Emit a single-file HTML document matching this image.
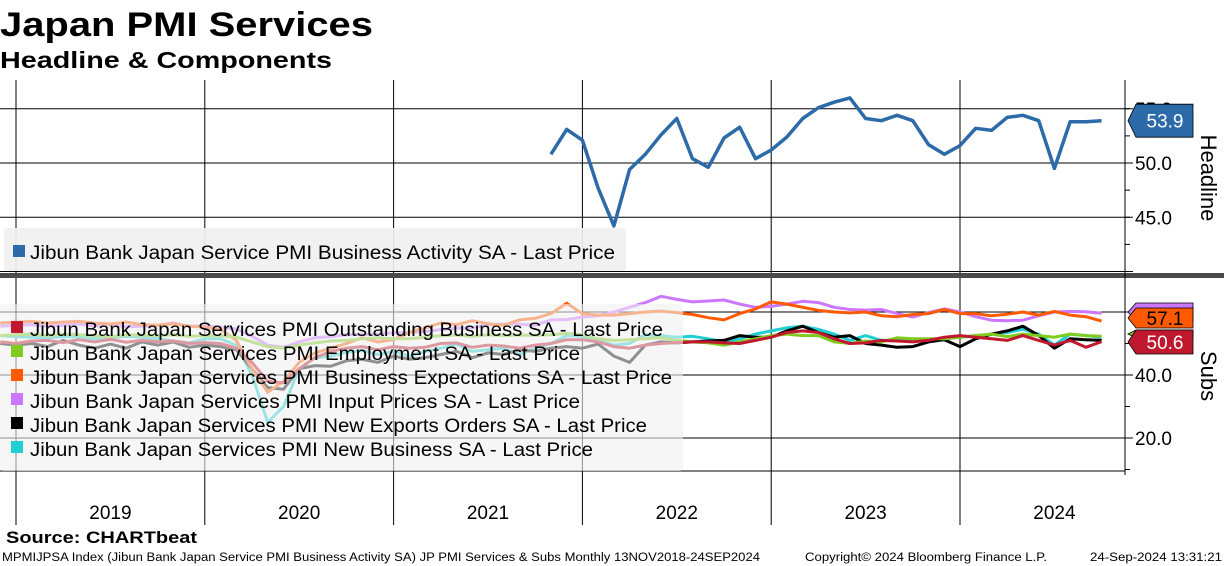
<!DOCTYPE html>
<html><head><meta charset="utf-8"><style>
html,body{margin:0;padding:0;background:#fff;width:1224px;height:566px;overflow:hidden}
svg text{font-family:"Liberation Sans",sans-serif}
</style></head><body>
<svg id="chart" width="1224" height="566" viewBox="0 0 1224 566" xmlns="http://www.w3.org/2000/svg">
<text x="0" y="36" font-size="34" font-weight="bold" textLength="373" lengthAdjust="spacingAndGlyphs">Japan PMI Services</text>
<text x="0" y="68" font-size="23" font-weight="bold" textLength="332" lengthAdjust="spacingAndGlyphs">Headline &amp; Components</text>
<g id="grid"></g>
<g id="series"></g>
<g id="legends"></g>
<g id="axes"></g>
<text x="6" y="543" font-size="17" font-weight="bold" textLength="191" lengthAdjust="spacingAndGlyphs">Source: CHARTbeat</text>
<text x="2" y="561" font-size="11.5" textLength="758" lengthAdjust="spacingAndGlyphs">MPMIJPSA Index (Jibun Bank Japan Service PMI Business Activity SA) JP PMI Services &amp; Subs  Monthly 13NOV2018-24SEP2024</text>
<text x="805" y="561" font-size="11.5" textLength="242" lengthAdjust="spacingAndGlyphs">Copyright© 2024 Bloomberg Finance L.P.</text>
<text x="1090" y="561" font-size="11.5" textLength="132" lengthAdjust="spacingAndGlyphs">24-Sep-2024 13:31:21</text>
</svg>
<script>
const years = ['2019','2020','2021','2022','2023','2024'];
const headlineTicks = [45, 50, 55];
const subsTicks = [20, 40, 60];
// headline: Oct 2021 - Sep 2024
const headline = [50.8,53.1,52.1,47.7,44.2,49.4,50.8,52.6,54.1,50.4,49.6,52.3,53.3,50.4,51.2,52.4,54.1,55.1,55.6,56.0,54.1,53.9,54.4,53.9,51.7,50.8,51.6,53.2,53.0,54.2,54.4,53.9,49.5,53.8,53.8,53.9];
// subs: Nov 2018 - Sep 2024
const outstanding = [50.5,50,
 50.8,51,50.3,51.2,50.5,51.3,50.4,51,50.6,50.8,50,50.3,
 50,48.5,44,38,37.5,42,45.5,47.5,48.5,49,48,49,
 48.5,48.8,50,50.2,48.8,49.5,49.2,48.5,49.5,50,51.2,51.2,
 50.5,49,48.5,49.5,50,50.3,50.5,50.5,50.2,50,51,52,
 53.5,54,53.5,51.5,50,50.2,51,50.8,50.5,51,52,52.5,
 52,51.5,51,52.5,51,49.5,51,48.8,50.6];
const employment = [52.5,52.8,
 53,52.5,53,52.8,52.5,52.2,52.8,52.6,52.5,52.8,52.3,52.5,
 52.5,52,50.5,49,48.5,49.5,50.2,50.8,51,51.5,51.8,51.5,
 51.5,52,52.5,52.7,52.3,52.8,52.5,52.7,52.6,52.8,53.2,52.8,
 51.5,51,51.2,51.5,51.8,51,50.5,50.2,49.5,50.5,51.5,52.5,
 53,52.5,52.5,50.5,50,50.8,50.5,51.8,51.5,51.5,51.5,52,
 52.5,53,52.2,53,52.5,52,53,52.5,52.3];
const expectations = [56.5,56.8,
 57,56.5,56.8,57,56.5,56.2,56.8,56,55.8,56.3,55.5,55.2,
 54.5,51,42,34.5,38,44,47,48.5,50,51.8,50.5,51.2,
 53.5,55,56.5,56,57.2,56.3,55.8,57.5,58,59.5,62.8,59.5,
 59,59,59.5,60,60.3,59.8,59.2,58.2,57.5,59.5,61,63.2,
 62.5,61.5,60.5,60,59.7,60,58.8,58.5,59.2,59.5,60.8,59.5,
 59.5,58.8,59.3,60,59,60.2,59,58.5,57.1];
const inputPrices = [55.5,55.8,
 56,55.5,55.8,56.2,55.6,55.9,55.3,55.5,55.8,56.5,55.4,55.6,
 55.2,54.6,52.3,49.5,48.8,50.5,51.8,52.2,52.8,52.9,53,53.4,
 53.5,53.8,54.4,54.9,55,55.9,56.2,56.1,55.8,57.5,57.6,58.4,
 58.8,60,61.5,63,65,64,63.2,63.5,63.8,62.5,61.5,61.8,
 62.5,63.4,63,61.5,60.8,60.6,60.8,59.5,58.4,59.8,61,60,
 58.5,57.4,57.2,57.4,58.8,60,60.2,60.1,59.6];
const newExports = [50,49.5,
 50,49,51,49.5,48.5,49.8,48.5,50.5,49.5,50.5,48.8,49.5,
 49,48,42,36,35.5,42,43,42.8,44.5,45,44,46,
 45,45.5,46.5,47.5,45.5,47,46.5,48,47.5,48.5,49,48.5,
 49.8,46,44,49.5,50.5,50.2,50.5,50.8,51,52.5,52,52,
 54,55.5,53.5,52,52.5,50,49.5,48.8,49,50.5,51.2,49,
 51.5,53,54,55.5,52.5,48.5,51.5,51.2,51];
const newBusiness = [52.5,52.2,
 52,51.8,52.2,52,51.5,51.8,52.3,52,51.6,50.8,50.2,51.5,
 51.5,49.5,40,25,30,42,45.5,46,47.2,47.8,46.5,47.5,
 46,47.5,48.5,49.8,47.5,48,48.5,46.5,48.5,50,52.5,52.3,
 51,49.5,50,52.8,52.5,52,52.3,51.5,50.5,51.5,53,54,
 55,55.5,54.5,53,51,52.5,51,51,50.8,51,51.5,52,
 52.5,53,53.5,54.5,53,49.5,53,52.5,52];

const NS='http://www.w3.org/2000/svg';
const X0=16, YEARW=188.8, MW=YEARW/12, RIGHT=1125;
function xMonth(m){return X0+(m+1)*MW;}
function yHead(v){return 163-(v-50)*10.85;}
function ySubs(v){return 375-(v-40)*3.15;}
function mk(tag,attrs,parent){const e=document.createElementNS(NS,tag);for(const k in attrs)e.setAttribute(k,attrs[k]);parent.appendChild(e);return e;}
const grid=document.getElementById('grid'), ser=document.getElementById('series'), leg=document.getElementById('legends'), ax=document.getElementById('axes');

years.forEach((y,i)=>{
  const x=X0+i*YEARW;
  const l=mk('line',{x1:x,x2:x,y1:80,y2:525,stroke:'#000','stroke-width':1},grid);
  
  
  const t=mk('text',{x:X0+(i+0.5)*YEARW,y:519,'font-size':19,'text-anchor':'middle'},ax);
  t.textContent=y;
  
  
});
headlineTicks.concat([40]).forEach(v=>{
  const y=yHead(v);
  const l=mk('line',{x1:0,x2:RIGHT+8,y1:y,y2:y,stroke:'#000','stroke-width':1},grid);
  
  
});
subsTicks.forEach(v=>{
  const y=ySubs(v);
  const l=mk('line',{x1:0,x2:RIGHT+8,y1:y,y2:y,stroke:'#000','stroke-width':1},grid);
  
  
});
const bl=mk('line',{x1:0,x2:RIGHT,y1:471,y2:471,stroke:'#000','stroke-width':1},grid);



function poly(vals,startM,yf,color,w,name){
  const pts=vals.map((v,i)=>xMonth(startM+i).toFixed(1)+','+yf(v).toFixed(1)).join(' ');
  const p=mk('polyline',{points:pts,fill:'none',stroke:color,'stroke-width':w,'stroke-linejoin':'round'},ser);
  
  
}
poly(headline,33,yHead,'#2d6aa8',3.5,'headline-line');
const subs=[[newBusiness,'#1fcfd2','new-business-line'],[newExports,'#000','new-exports-line'],[inputPrices,'#cc77ff','input-prices-line'],[expectations,'#ff5a00','business-expectations-line'],[employment,'#7fcc1e','employment-line'],[outstanding,'#c0182f','outstanding-business-line']];
subs.forEach(s=>poly(s[0],-2,ySubs,s[1],3,s[2]));

const sep=mk('rect',{x:0,y:273,width:1224,height:5,fill:'#4a4a4a'},ax);



const lb1=mk('rect',{x:4,y:228,width:622,height:43,fill:'#f0f0f0','fill-opacity':0.92,rx:3},leg);


const hr=mk('rect',{x:13,y:245,width:12,height:12,fill:'#2d6aa8'},leg);


const ht=mk('text',{x:30,y:259,'font-size':19,textLength:585,lengthAdjust:'spacingAndGlyphs'},leg);
ht.textContent='Jibun Bank Japan Service PMI Business Activity SA - Last Price';



const lb2=mk('rect',{x:0,y:304,width:683,height:167,fill:'#f0f0f0','fill-opacity':0.6,rx:3},leg);


const legItems=[['#c0182f','Jibun Bank Japan Services PMI Outstanding Business SA - Last Price',633],['#7fcc1e','Jibun Bank Japan Services PMI Employment SA - Last Price',550],['#ff5a00','Jibun Bank Japan Services PMI Business Expectations SA - Last Price',642],['#cc77ff','Jibun Bank Japan Services PMI Input Prices SA - Last Price',550],['#000','Jibun Bank Japan Services PMI New Exports Orders SA - Last Price',617],['#1fcfd2','Jibun Bank Japan Services PMI New Business SA - Last Price',563]];
legItems.forEach((it,i)=>{
  const y=329+i*24;
  const r=mk('rect',{x:11,y:y-8,width:12,height:12,fill:it[0]},leg);
  
  
  const t=mk('text',{x:30,y:y+7,'font-size':19,textLength:it[2],lengthAdjust:'spacingAndGlyphs'},leg);
  t.textContent=it[1];
  
  
});

const ra=mk('line',{x1:RIGHT,x2:RIGHT,y1:80,y2:475,stroke:'#000','stroke-width':1},ax);


[55,52.5,50,47.5,45,42.5].forEach(v=>{
  const y=yHead(v);
  const t=mk('line',{x1:RIGHT,x2:RIGHT+5,y1:y,y2:y,stroke:'#000'},ax);
  
  
});
[60,50,40,30,20,10].forEach(v=>{
  const y=ySubs(v);
  const t=mk('line',{x1:RIGHT,x2:RIGHT+5,y1:y,y2:y,stroke:'#000'},ax);
  
  
});
headlineTicks.forEach(v=>{
  const t=mk('text',{x:1135,y:yHead(v)+7,'font-size':19},ax);
  t.textContent=v.toFixed(1);
  
  
});
[20,40].forEach(v=>{
  const t=mk('text',{x:1135,y:ySubs(v)+7,'font-size':19},ax);
  t.textContent=v.toFixed(1);
  
  
});
function rot(txt,cx,cy,name){
  const t=mk('text',{x:cx,y:cy,'font-size':22,'text-anchor':'middle',transform:'rotate(90 '+cx+' '+cy+')'},ax);
  t.textContent=txt;
  
  
}
rot('Headline',1201,178,'headline-axis-title');
rot('Subs',1201,376,'subs-axis-title');

function tag(yc,h,color,txt,tcolor,name){
  const x=1128,w=65;
  const p=mk('polygon',{points:`${x},${yc} ${x+8},${yc-h/2} ${x+w},${yc-h/2} ${x+w},${yc+h/2} ${x+8},${yc+h/2}`,fill:color,stroke:'#000','stroke-width':0.8},ax);
  
  
  if(txt){
    const t=mk('text',{x:x+37,y:yc+7,'font-size':19,'text-anchor':'middle',fill:tcolor},ax);
    t.textContent=txt;
    
    
  }
}
tag(yHead(headline[headline.length-1]),33,'#2d6aa8','53.9','#fff','headline-last-value');
tag(312,18,'#cc77ff','','#000','input-prices-last-value');
tag(318,20,'#ff5a00','57.1','#000','expectations-last-value');
tag(334,8,'#7fcc1e','','#000','employment-last-value');
tag(342,24,'#c0182f','50.6','#fff','outstanding-last-value');
</script>
</body></html>
